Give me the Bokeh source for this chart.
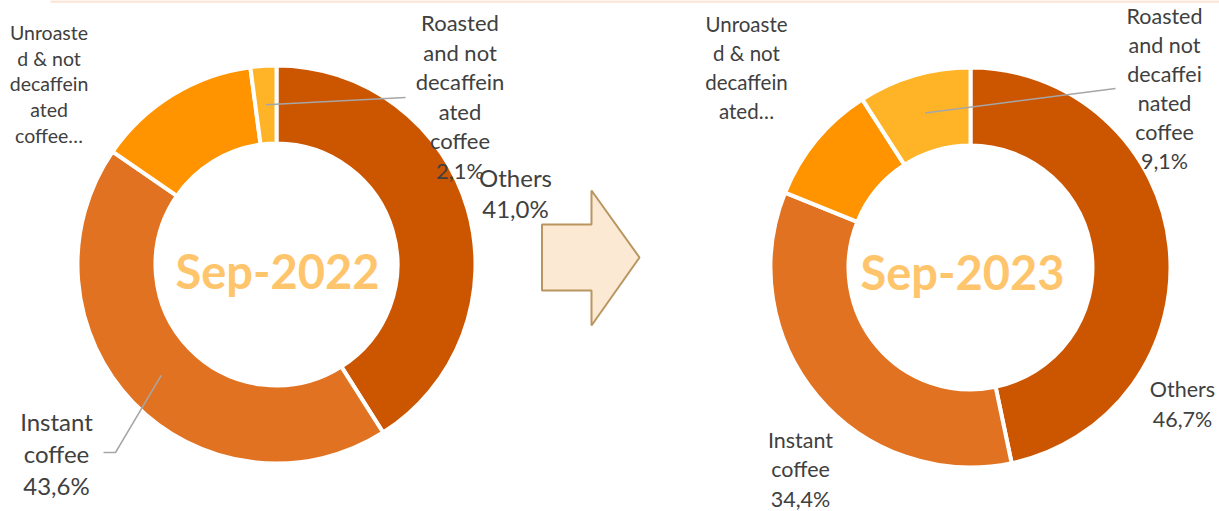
import numpy as np
from bokeh.plotting import figure
from bokeh.models import Range1d
from bokeh.core.properties import value
from bokeh.embed import file_html
from bokeh.resources import INLINE

# ---------------- data ----------------
categories = ["Others", "Instant coffee",
              "Unroasted & not decaffeinated coffee",
              "Roasted and not decaffeinated coffee"]
values_2022 = [41.0, 43.6, 13.3, 2.1]
values_2023 = [46.7, 34.4, 9.8, 9.1]
periods = ["Sep-2022", "Sep-2023"]
# data-label text as wrapped in the chart
label_lines_2022 = [["Others"], ["Instant", "coffee"],
                    ["Unroaste", "d & not", "decaffein", "ated", "coffee…"],
                    ["Roasted", "and not", "decaffein", "ated", "coffee"]]
label_lines_2023 = [["Others"], ["Instant", "coffee"],
                    ["Unroaste", "d & not", "decaffein", "ated…"],
                    ["Roasted", "and not", "decaffei", "nated", "coffee"]]
show_pct_2022 = [True, True, False, True]
show_pct_2023 = [True, True, False, True]

# ---------------- styles / layout ----------------
colors = ["#CC5500", "#E07222", "#FF9400", "#FFB428"]
TXT = "#404040"
FONT = "Lato"
W, H = 1219, 511


def Y(ry):
    return H - ry


charts = [
    dict(values=values_2022, lines=label_lines_2022, show=show_pct_2022, title=periods[0],
         cx=276, cy=264, R=199, r=121, tx=277, tbase=270,
         # (center x, first baseline, line spacing, font px)
         labels=[(515, 176.5, 31, 24), (56, 421, 32, 24), (48.5, 32, 25.7, 19.5), (459.5, 22, 29.6, 22)],
         leaders={3: [(405, 97)], 1: [(115, 452), (103, 452)]}),
    dict(values=values_2023, lines=label_lines_2023, show=show_pct_2023, title=periods[1],
         cx=970, cy=267, R=200, r=122, tx=962, tbase=271,
         labels=[(1182, 388, 30, 21.5), (800, 439, 29.5, 21.5), (746, 23, 29, 20.5), (1164, 15, 29, 21.5)],
         leaders={3: [(1115, 88)]}),
]

p = figure(width=W, height=H, output_backend="svg", toolbar_location=None,
           x_range=Range1d(0, W), y_range=Range1d(0, H), min_border=0)
p.axis.visible = False
p.grid.visible = False
p.outline_line_color = None
p.background_fill_color = "white"

# thin top rule
p.line(x=[50, W], y=[Y(1), Y(1)], line_color="#FBE4D5", line_width=2.5)

for ch in charts:
    vals = np.array(ch["values"], dtype=float)
    frac = vals / vals.sum()
    c1 = np.cumsum(frac)
    c0 = c1 - frac
    starts = np.pi / 2 - 2 * np.pi * c0
    ends = np.pi / 2 - 2 * np.pi * c1
    p.annular_wedge(x=[ch["cx"]] * len(vals), y=[Y(ch["cy"])] * len(vals),
                    inner_radius=ch["r"], outer_radius=ch["R"],
                    start_angle=list(starts), end_angle=list(ends), direction="clock",
                    fill_color=colors, line_color="white", line_width=4)

    # leader lines
    rm = (ch["R"] + ch["r"]) / 2
    for i, pts in ch["leaders"].items():
        mid = 2 * np.pi * (c0[i] + c1[i]) / 2
        sx = ch["cx"] + rm * np.sin(mid)
        sy = ch["cy"] - rm * np.cos(mid)
        xs = [sx] + [q[0] for q in pts]
        ys = [Y(sy)] + [Y(q[1]) for q in pts]
        p.line(x=xs, y=ys, line_color="#A6A6A6", line_width=1.5)

    # center title
    p.text(x=[ch["tx"]], y=[Y(ch["tbase"])], text=[ch["title"]], text_align="center",
           text_baseline="alphabetic", text_font=value(FONT), text_font_style="bold",
           text_font_size="47px", text_color="#FFC56C")

    # data labels
    for i, (lx, lb, sp, fs) in enumerate(ch["labels"]):
        lines = list(ch["lines"][i])
        if ch["show"][i]:
            lines.append(f"{vals[i]:.1f}%".replace(".", ","))
        xs = [lx] * len(lines)
        ys = [Y(lb + k * sp) for k in range(len(lines))]
        p.text(x=xs, y=ys, text=lines, text_align="center", text_baseline="alphabetic",
               text_font=value(FONT), text_font_size=f"{fs}px", text_color=TXT)

# arrow between the two donuts
ax = [541.5, 591, 591, 639, 591, 591, 541.5]
ay = [224, 224, 190, 257, 325, 290, 290]
p.patch(x=ax, y=[Y(v) for v in ay], fill_color="#FBE9D3", line_color="#B99660", line_width=2)

open("out.html", "w").write(file_html(p, INLINE))
